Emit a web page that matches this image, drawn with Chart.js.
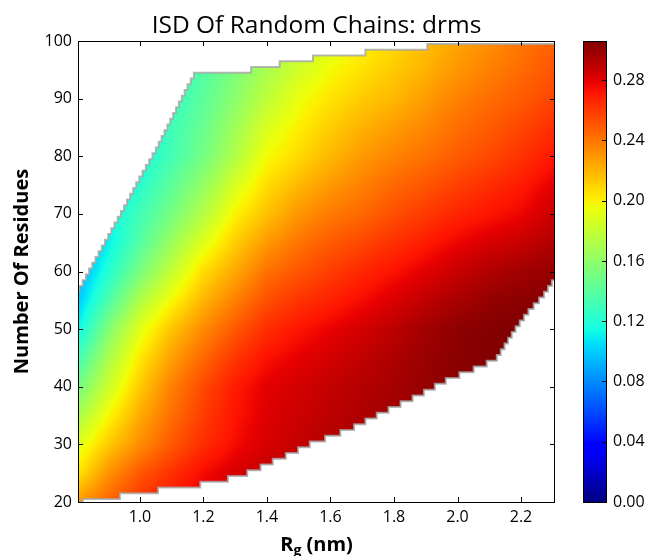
<!DOCTYPE html>
<html>
<head>
<meta charset="utf-8">
<script src="https://cdn.jsdelivr.net/npm/chart.js@4.4.1/dist/chart.umd.min.js"></script>
<style>
  html, body { margin: 0; padding: 0; background: #ffffff; }
  #wrap { width: 653px; height: 556px; position: relative; }
</style>
</head>
<body>
<div id="wrap"><canvas id="isd"></canvas></div>
<script>
// Grid nodes: radius of gyration (nm) and chain length (residues)
const rgValues = [0.8, 0.9, 1.0, 1.1, 1.2, 1.3, 1.4, 1.5, 1.6, 1.7, 1.8, 1.9, 2.0, 2.1, 2.2, 2.3];
const residueValues = [20, 25, 30, 35, 40, 45, 50, 55, 60, 65, 70, 75, 80, 85, 90, 95, 100];

// drms at each Rg node, one array per chain length (null = no chains there)
const drmsAtN20  = [0.228, 0.246, 0.262, 0.273, 0.282, 0.288, 0.292, null, null, null, null, null, null, null, null, null];
const drmsAtN25  = [0.203, 0.231, 0.250, 0.263, 0.275, 0.283, 0.288, 0.291, 0.294, null, null, null, null, null, null, null];
const drmsAtN30  = [0.188, 0.213, 0.233, 0.250, 0.264, 0.275, 0.283, 0.288, 0.292, 0.295, 0.298, null, null, null, null, null];
const drmsAtN35  = [0.168, 0.198, 0.223, 0.243, 0.259, 0.272, 0.281, 0.286, 0.290, 0.294, 0.297, 0.300, 0.302, null, null, null];
const drmsAtN40  = [0.148, 0.183, 0.213, 0.237, 0.255, 0.270, 0.280, 0.284, 0.288, 0.292, 0.296, 0.300, 0.303, 0.305, null, null];
const drmsAtN45  = [0.128, 0.170, 0.203, 0.227, 0.245, 0.261, 0.273, 0.279, 0.284, 0.289, 0.294, 0.299, 0.303, 0.305, 0.306, null];
const drmsAtN50  = [0.109, 0.155, 0.191, 0.215, 0.234, 0.250, 0.264, 0.272, 0.278, 0.284, 0.290, 0.297, 0.302, 0.305, 0.306, 0.306];
const drmsAtN55  = [0.097, 0.135, 0.172, 0.198, 0.220, 0.237, 0.253, 0.262, 0.268, 0.275, 0.282, 0.289, 0.295, 0.300, 0.303, 0.304];
const drmsAtN60  = [0.088, 0.120, 0.152, 0.180, 0.207, 0.224, 0.242, 0.251, 0.259, 0.266, 0.273, 0.280, 0.287, 0.293, 0.297, 0.300];
const drmsAtN65  = [0.085, 0.110, 0.138, 0.165, 0.190, 0.212, 0.229, 0.241, 0.249, 0.256, 0.263, 0.270, 0.277, 0.283, 0.287, 0.293];
const drmsAtN70  = [null,  0.110, 0.131, 0.151, 0.174, 0.200, 0.216, 0.230, 0.239, 0.245, 0.253, 0.260, 0.267, 0.272, 0.277, 0.286];
const drmsAtN75  = [null,  0.100, 0.122, 0.142, 0.162, 0.187, 0.207, 0.219, 0.229, 0.237, 0.245, 0.251, 0.258, 0.264, 0.270, 0.279];
const drmsAtN80  = [null,  0.100, 0.115, 0.132, 0.150, 0.173, 0.197, 0.208, 0.219, 0.229, 0.236, 0.242, 0.249, 0.255, 0.262, 0.271];
const drmsAtN85  = [null,  null,  0.110, 0.130, 0.146, 0.166, 0.188, 0.201, 0.212, 0.221, 0.228, 0.235, 0.243, 0.249, 0.256, 0.264];
const drmsAtN90  = [null,  null,  0.110, 0.127, 0.141, 0.159, 0.178, 0.194, 0.205, 0.213, 0.219, 0.228, 0.237, 0.243, 0.249, 0.256];
const drmsAtN95  = [null,  null,  null,  0.125, 0.138, 0.153, 0.170, 0.185, 0.197, 0.205, 0.213, 0.221, 0.230, 0.237, 0.244, 0.251];
const drmsAtN100 = [null,  null,  null,  null,  0.135, 0.148, 0.163, 0.178, 0.190, 0.200, 0.208, 0.217, 0.225, 0.232, 0.240, 0.247];

// Edges of the sampled region: upper/left edge and lower/right edge (Rg, residues)
const upperEdgeRg = [0.805, 0.85, 0.90, 0.95, 1.00, 1.05, 1.10, 1.15, 1.17, 1.35, 1.44, 1.545, 1.71, 1.905, 2.307];
const upperEdgeN  = [56.5, 61.0, 66.0, 71.0, 76.2, 81.0, 86.5, 92.0, 94.0, 95.0, 96.0, 97.0, 98.0, 99.0, 99.2];
const lowerEdgeRg = [0.805, 0.82, 0.937, 1.057, 1.19, 1.277, 1.35, 1.41, 1.48, 1.53, 1.66, 1.76, 1.87, 1.97, 2.06, 2.12, 2.14, 2.18, 2.22, 2.27, 2.307];
const lowerEdgeN  = [19.5, 20.0, 21.0, 22.0, 23.0, 24.0, 25.2, 26.8, 28.5, 29.9, 32.6, 35.4, 38.3, 41.2, 43.2, 44.7, 46.3, 49.8, 52.8, 55.8, 58.8];

// Axis ranges and tick labels
const rgRange = [0.805, 2.307];
const residueRange = [20, 100];
const rgTicks = [1.0, 1.2, 1.4, 1.6, 1.8, 2.0, 2.2];
const residueTicks = [20, 30, 40, 50, 60, 70, 80, 90, 100];
const drmsRange = [0.0, 0.306];
const drmsTicks = [0.00, 0.04, 0.08, 0.12, 0.16, 0.20, 0.24, 0.28];

const drmsRows = [drmsAtN20, drmsAtN25, drmsAtN30, drmsAtN35, drmsAtN40, drmsAtN45, drmsAtN50, drmsAtN55,
  drmsAtN60, drmsAtN65, drmsAtN70, drmsAtN75, drmsAtN80, drmsAtN85, drmsAtN90, drmsAtN95, drmsAtN100];

const FONT = "'Open Sans', 'DejaVu Sans', sans-serif";

// matplotlib "jet" colour map
function segment(t, pts) {
  for (let i = 0; i < pts.length - 1; i++) {
    const [t0, v0] = pts[i], [t1, v1] = pts[i + 1];
    if (t <= t1) return v0 + (v1 - v0) * (t - t0) / (t1 - t0);
  }
  return pts[pts.length - 1][1];
}
function jet(t) {
  t = Math.min(1, Math.max(0, t));
  const r = segment(t, [[0, 0], [0.35, 0], [0.66, 1], [0.89, 1], [1, 0.5]]);
  const g = segment(t, [[0, 0], [0.125, 0], [0.375, 1], [0.64, 1], [0.91, 0], [1, 0]]);
  const b = segment(t, [[0, 0.5], [0.11, 1], [0.34, 1], [0.65, 0], [1, 0]]);
  return [Math.round(r * 255), Math.round(g * 255), Math.round(b * 255)];
}

function cellIndex(values, v) {
  let i = 0;
  while (i < values.length - 2 && v > values[i + 1]) i++;
  const f = Math.min(1, Math.max(0, (v - values[i]) / (values[i + 1] - values[i])));
  return [i, f];
}

// Smooth shading between the grid nodes (weights renormalised over available nodes)
function drmsAt(rg, n) {
  const [i, fx] = cellIndex(rgValues, rg);
  const [j, fy] = cellIndex(residueValues, n);
  const corners = [
    [drmsRows[j][i], (1 - fx) * (1 - fy)],
    [drmsRows[j][i + 1], fx * (1 - fy)],
    [drmsRows[j + 1][i], (1 - fx) * fy],
    [drmsRows[j + 1][i + 1], fx * fy]
  ];
  let s = 0, w = 0;
  for (const [v, wt] of corners) {
    if (v !== null && wt > 0) { s += v * wt; w += wt; }
  }
  if (w === 0) {
    for (const [v] of corners) if (v !== null) return v;
    return null;
  }
  return s / w;
}

// Rg at which an edge reaches a given chain length
function startOfRow(n) {
  const ns = upperEdgeN, rs = upperEdgeRg;
  if (n <= ns[0]) return rs[0];
  if (n > ns[ns.length - 1]) return null;
  for (let i = 0; i < ns.length - 1; i++) {
    if (n > ns[i] && n <= ns[i + 1]) return rs[i] + (n - ns[i]) / (ns[i + 1] - ns[i]) * (rs[i + 1] - rs[i]);
  }
  return null;
}
function endOfRow(n) {
  const ns = lowerEdgeN, rs = lowerEdgeRg;
  if (n >= ns[ns.length - 1]) return rs[rs.length - 1];
  if (n < ns[0]) return null;
  for (let i = 0; i < ns.length - 1; i++) {
    if (n >= ns[i] && n < ns[i + 1]) return rs[i] + (n - ns[i]) / (ns[i + 1] - ns[i]) * (rs[i + 1] - rs[i]);
  }
  return null;
}

// Outline of the sampled region, one residue per row
function sampledRegionPath(x, y) {
  const rows = [];
  for (let n = residueRange[0]; n <= residueRange[1]; n++) {
    const lo = startOfRow(n), hi = endOfRow(n);
    if (lo === null || hi === null || hi <= lo) continue;
    rows.push({
      lo: x.getPixelForValue(lo),
      hi: x.getPixelForValue(hi),
      yb: y.getPixelForValue(Math.max(n - 0.5, residueRange[0])),
      yt: y.getPixelForValue(Math.min(n + 0.5, residueRange[1]))
    });
  }
  const p = new Path2D();
  p.moveTo(rows[0].lo, rows[0].yb);
  for (const r of rows) { p.lineTo(r.hi, r.yb); p.lineTo(r.hi, r.yt); }
  for (let k = rows.length - 1; k >= 0; k--) { p.lineTo(rows[k].lo, rows[k].yt); p.lineTo(rows[k].lo, rows[k].yb); }
  p.closePath();
  return p;
}

const heatmapLayer = {
  id: 'drmsHeatmap',
  beforeDatasetsDraw(chart) {
    const { ctx, chartArea: a, scales: { x, y } } = chart;
    const w = Math.round(a.right - a.left), h = Math.round(a.bottom - a.top);
    const off = document.createElement('canvas');
    off.width = w; off.height = h;
    const octx = off.getContext('2d');
    const img = octx.createImageData(w, h);
    const span = drmsRange[1] - drmsRange[0];
    const rgCol = [];
    for (let px = 0; px < w; px++) rgCol.push(x.getValueForPixel(a.left + px + 0.5));
    for (let py = 0; py < h; py++) {
      const n = y.getValueForPixel(a.top + py + 0.5);
      for (let px = 0; px < w; px++) {
        const v = drmsAt(rgCol[px], n);
        if (v === null) continue;
        const c = jet((v - drmsRange[0]) / span);
        const k = (py * w + px) * 4;
        img.data[k] = c[0]; img.data[k + 1] = c[1]; img.data[k + 2] = c[2]; img.data[k + 3] = 255;
      }
    }
    octx.putImageData(img, 0, 0);
    const region = sampledRegionPath(x, y);
    ctx.save();
    ctx.beginPath(); ctx.rect(a.left, a.top, w, h); ctx.clip();
    ctx.save();
    ctx.clip(region);
    ctx.drawImage(off, a.left, a.top);
    ctx.restore();
    ctx.strokeStyle = 'rgba(165,165,165,0.8)';
    ctx.lineWidth = 2;
    ctx.stroke(region);
    ctx.restore();
  },
  afterDraw(chart) {
    const { ctx, chartArea: a, scales: { x, y, cb } } = chart;
    ctx.save();
    // frame and inward ticks on all four sides
    ctx.strokeStyle = '#000';
    ctx.lineWidth = 1;
    ctx.strokeRect(a.left + 0.5, a.top + 0.5, a.right - a.left - 1, a.bottom - a.top);
    ctx.beginPath();
    for (const v of rgTicks) {
      const px = Math.round(x.getPixelForValue(v)) + 0.5;
      ctx.moveTo(px, a.bottom); ctx.lineTo(px, a.bottom - 5);
      ctx.moveTo(px, a.top); ctx.lineTo(px, a.top + 5);
    }
    for (const v of residueTicks) {
      const py = Math.round(y.getPixelForValue(v)) + 0.5;
      ctx.moveTo(a.left, py); ctx.lineTo(a.left + 5, py);
      ctx.moveTo(a.right, py); ctx.lineTo(a.right - 5, py);
    }
    ctx.stroke();

    // colour bar
    const barL = cb.left + 28, barW = 24;
    const barT = cb.getPixelForValue(drmsRange[1]), barB = cb.getPixelForValue(drmsRange[0]);
    const grad = ctx.createLinearGradient(0, barB, 0, barT);
    for (let k = 0; k <= 64; k++) {
      const c = jet(k / 64);
      grad.addColorStop(k / 64, `rgb(${c[0]},${c[1]},${c[2]})`);
    }
    ctx.fillStyle = grad;
    ctx.fillRect(barL, barT, barW, barB - barT);
    ctx.strokeRect(barL + 0.5, barT + 0.5, barW - 1, barB - barT);
    ctx.beginPath();
    for (const v of drmsTicks) {
      const py = Math.round(cb.getPixelForValue(v)) + 0.5;
      ctx.moveTo(barL + barW - 5, py); ctx.lineTo(barL + barW, py);
    }
    ctx.stroke();

    // titles
    ctx.fillStyle = '#000';
    const cx = (a.left + a.right) / 2;
    ctx.font = `24.5px ${FONT}`;
    ctx.textAlign = 'center';
    ctx.textBaseline = 'alphabetic';
    ctx.fillText('ISD Of Random Chains: drms', cx, 33);

    // x axis title with subscript
    const big = `bold 20px ${FONT}`, small = `bold 14px ${FONT}`;
    ctx.textAlign = 'left';
    ctx.font = big; const wR = ctx.measureText('R').width; const wRest = ctx.measureText(' (nm)').width;
    ctx.font = small; const wg = ctx.measureText('g').width;
    let tx = cx - (wR + wg + wRest) / 2;
    ctx.font = big; ctx.fillText('R', tx, 551); tx += wR;
    ctx.font = small; ctx.fillText('g', tx, 555); tx += wg;
    ctx.font = big; ctx.fillText(' (nm)', tx, 551);

    // y axis title
    ctx.translate(22, (a.top + a.bottom) / 2);
    ctx.rotate(-Math.PI / 2);
    ctx.textAlign = 'center';
    ctx.textBaseline = 'middle';
    ctx.font = `bold 20px ${FONT}`;
    ctx.fillText('Number Of Residues', 0, 0);
    ctx.restore();
  }
};

const tickFont = { family: FONT, size: 16 };

new Chart(document.getElementById('isd'), {
  type: 'scatter',
  data: { datasets: [{ data: [], pointRadius: 0 }] },
  options: {
    responsive: true,
    maintainAspectRatio: false,
    animation: false,
    devicePixelRatio: 1,
    layout: { padding: { top: 41, right: 0, bottom: 0, left: 0 } },
    plugins: { legend: { display: false }, tooltip: { enabled: false }, title: { display: false } },
    scales: {
      x: {
        type: 'linear', position: 'bottom', min: rgRange[0], max: rgRange[1],
        afterBuildTicks: s => { s.ticks = rgTicks.map(v => ({ value: v })); },
        afterFit: s => { s.height = 54; },
        grid: { display: false, drawTicks: false }, border: { display: false },
        ticks: { padding: 6, font: tickFont, color: '#000', maxRotation: 0, autoSkip: false,
          callback: v => Number(v).toFixed(1) }
      },
      y: {
        type: 'linear', position: 'left', min: residueRange[0], max: residueRange[1],
        afterBuildTicks: s => { s.ticks = residueTicks.map(v => ({ value: v })); },
        afterFit: s => { s.width = 78; },
        grid: { display: false, drawTicks: false }, border: { display: false },
        ticks: { padding: 6, font: tickFont, color: '#000', autoSkip: false,
          callback: v => String(v) }
      },
      cb: {
        type: 'linear', position: 'right', min: drmsRange[0], max: drmsRange[1],
        afterBuildTicks: s => { s.ticks = drmsTicks.map(v => ({ value: v })); },
        afterFit: s => { s.width = 98; },
        grid: { display: true, drawOnChartArea: false, drawTicks: true, tickLength: 52, color: 'rgba(0,0,0,0)' },
        border: { display: false },
        ticks: { padding: 6, font: tickFont, color: '#000', autoSkip: false,
          callback: v => Number(v).toFixed(2) }
      }
    }
  },
  plugins: [heatmapLayer]
});
</script>
</body>
</html>
